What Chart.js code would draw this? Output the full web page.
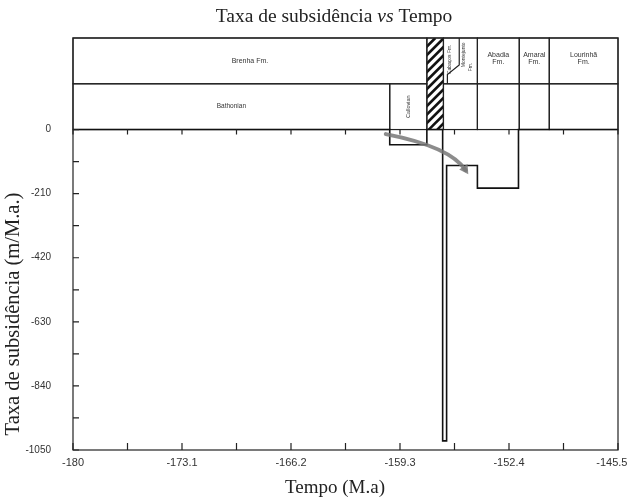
<!DOCTYPE html>
<html>
<head>
<meta charset="utf-8">
<script src="https://cdn.jsdelivr.net/npm/chart.js@4.4.0/dist/chart.umd.min.js"></script>
<style>
    body { margin: 0; background: #fff; }
    #grafico { display: block; }
</style>
</head>
<body>
<canvas id="grafico" width="632" height="502"></canvas>
<script>
// inicio de cada intervalo (M.a) e taxa de subsidência (m/M.a.) que vale até o próximo
const tempos = [-180, -159.95, -157.6, -156.6, -156.35, -154.4, -151.8, -145.5];
const taxas = [0, -50, 0, -1020, -118, -192, 0, 0];

const rotulosX = ['-180', '-173.1', '-166.2', '-159.3', '-152.4', '-145.5'];
const rotulosY = ['0', '-210', '-420', '-630', '-840', '-1050'];

// coluna estratigráfica: faixa superior (formações) e inferior (andares)
const formacoes = [
    [-180, -157.6, 'Brenha Fm.'],
    [-154.4, -151.75, 'Abadia\nFm.'],
    [-151.75, -149.85, 'Amaral\nFm.'],
    [-149.85, -145.5, 'Lourinhã\nFm.']
];
const andares = [
    [-180, -159.95, 'Bathonian'],
    [-159.95, -157.6, ''],
    [-156.55, -154.4, ''],
    [-154.4, -151.75, ''],
    [-151.75, -149.85, ''],
    [-149.85, -145.5, '']
];
const hiato = [-157.6, -156.55];
const limiteCabacos = [[-155.55, 300], [-155.55, 212], [-156.3, 180], [-156.3, 150]];
const seta = [[-160.2, -15], [-156.9, -65], [-155.15, -133]];

const faixaTopo = 300, faixaMeio = 150, faixaBase = 0;

function textoVertical(ctx, txt, x, y) {
    ctx.save();
    ctx.translate(x, y);
    ctx.rotate(-Math.PI / 2);
    ctx.fillText(txt, 0, 0);
    ctx.restore();
}

const coluna = {
    id: 'coluna',
    beforeDatasetsDraw(chart) {
        const { ctx, scales: { x, y } } = chart;
        const px = v => x.getPixelForValue(v);
        const py = v => y.getPixelForValue(v);
        ctx.save();

        // hiato hachurado
        const h0 = px(hiato[0]), h1 = px(hiato[1]);
        const yT = py(faixaTopo), yB = py(faixaBase);
        ctx.save();
        ctx.beginPath();
        ctx.rect(h0, yT, h1 - h0, yB - yT);
        ctx.clip();
        ctx.strokeStyle = '#111';
        ctx.lineWidth = 2.6;
        for (let k = -(yB - yT); k < (h1 - h0) + 10; k += 8.5) {
            ctx.beginPath();
            ctx.moveTo(h0 + k, yB);
            ctx.lineTo(h0 + k + (yB - yT), yT);
            ctx.stroke();
        }
        ctx.restore();

        ctx.strokeStyle = '#222';
        ctx.lineWidth = 1.2;
        ctx.strokeRect(h0, yT, h1 - h0, yB - yT);

        ctx.fillStyle = '#333';
        ctx.textAlign = 'center';
        ctx.textBaseline = 'middle';

        ctx.font = '7px "Liberation Sans"';
        formacoes.forEach(([a, b, txt]) => {
            const xa = px(a), xb = px(b), ya = py(faixaTopo), yb = py(faixaMeio);
            ctx.strokeRect(xa, ya, xb - xa, yb - ya);
            const linhas = txt.split('\n');
            linhas.forEach((l, i) => ctx.fillText(l, (xa + xb) / 2, (ya + yb) / 2 - 6 + i * 7 + (linhas.length === 1 ? 6 : 0)));
        });
        ctx.font = '6.5px "Liberation Sans"';
        andares.forEach(([a, b, txt]) => {
            const xa = px(a), xb = px(b), ya = py(faixaMeio), yb = py(faixaBase);
            ctx.strokeRect(xa, ya, xb - xa, yb - ya);
            if (txt) ctx.fillText(txt, (xa + xb) / 2, (ya + yb) / 2);
        });

        // Cabaços / Montejunto, separadas por limite inclinado
        const c0 = px(hiato[1]), c1 = px(-154.4);
        ctx.strokeRect(c0, py(faixaTopo), c1 - c0, py(faixaMeio) - py(faixaTopo));
        ctx.beginPath();
        limiteCabacos.forEach(([t, v], i) => i ? ctx.lineTo(px(t), py(v)) : ctx.moveTo(px(t), py(v)));
        ctx.stroke();

        ctx.font = '5.5px "Liberation Sans"';
        textoVertical(ctx, 'Callovian', px(-158.78), py(75));
        ctx.font = '5px "Liberation Sans"';
        textoVertical(ctx, 'Cabaços Fm.', px(-156.15), py(230));
        textoVertical(ctx, 'Montejunto', px(-155.3), py(245));
        textoVertical(ctx, 'Fm.', px(-154.85), py(205));
        ctx.restore();
    },
    afterDatasetsDraw(chart) {
        const { ctx, scales: { x, y } } = chart;
        const [a, m, b] = seta.map(([t, v]) => [x.getPixelForValue(t), y.getPixelForValue(v)]);
        const cx = 2 * m[0] - (a[0] + b[0]) / 2;
        const cy = 2 * m[1] - (a[1] + b[1]) / 2;
        ctx.save();
        ctx.strokeStyle = 'rgba(120,120,120,0.85)';
        ctx.fillStyle = 'rgba(120,120,120,0.85)';
        ctx.lineWidth = 4;
        ctx.lineCap = 'round';
        ctx.beginPath();
        ctx.moveTo(a[0], a[1]);
        ctx.quadraticCurveTo(cx, cy, b[0], b[1]);
        ctx.stroke();
        const ang = Math.atan2(b[1] - cy, b[0] - cx);
        ctx.beginPath();
        ctx.moveTo(b[0] + 5 * Math.cos(ang), b[1] + 5 * Math.sin(ang));
        ctx.lineTo(b[0] - 4 * Math.cos(ang) + 5 * Math.sin(ang), b[1] - 4 * Math.sin(ang) - 5 * Math.cos(ang));
        ctx.lineTo(b[0] - 4 * Math.cos(ang) - 5 * Math.sin(ang), b[1] - 4 * Math.sin(ang) + 5 * Math.cos(ang));
        ctx.closePath();
        ctx.fill();
        ctx.restore();
    }
};

// moldura e marcas dos eixos voltadas para dentro
const eixos = {
    id: 'eixos',
    afterDraw(chart) {
        const { ctx, chartArea: area, scales: { x, y } } = chart;
        const y0 = y.getPixelForValue(0);
        ctx.save();
        ctx.strokeStyle = '#222';
        ctx.lineWidth = 1.2;
        ctx.strokeRect(area.left, area.top, area.right - area.left, area.bottom - area.top);
        ctx.beginPath();
        x.ticks.forEach(t => {
            const p = x.getPixelForValue(t.value);
            ctx.moveTo(p, area.bottom);
            ctx.lineTo(p, area.bottom - 7);
            ctx.moveTo(p, y0);
            ctx.lineTo(p, y0 + 5);
        });
        y.ticks.filter(t => t.value <= 0).forEach(t => {
            const p = y.getPixelForValue(t.value);
            ctx.moveTo(area.left, p);
            ctx.lineTo(area.left + 6, p);
        });
        ctx.stroke();
        ctx.restore();
    }
};

const titulos = {
    id: 'titulos',
    afterDraw(chart) {
        const { ctx } = chart;
        const fam = '"Liberation Serif", "Times New Roman", serif';
        ctx.save();
        ctx.fillStyle = '#222';
        ctx.textBaseline = 'middle';

        const partes = [['Taxa de subsidência ', ''], ['vs', 'italic '], [' Tempo', '']];
        let total = 0;
        partes.forEach(([txt, est]) => { ctx.font = est + '19.5px ' + fam; total += ctx.measureText(txt).width; });
        let xAtual = 334 - total / 2;
        ctx.textAlign = 'left';
        partes.forEach(([txt, est]) => {
            ctx.font = est + '19.5px ' + fam;
            ctx.fillText(txt, xAtual, 17);
            xAtual += ctx.measureText(txt).width;
        });

        ctx.textAlign = 'center';
        ctx.font = '19px ' + fam;
        ctx.fillText('Tempo (M.a)', 335, 488);
        ctx.font = '20.5px ' + fam;
        textoVertical(ctx, 'Taxa de subsidência (m/M.a.)', 14, 314);
        ctx.restore();
    }
};

const pontos = tempos.map((t, i) => ({ x: t, y: taxas[i] }));

new Chart(document.getElementById('grafico').getContext('2d'), {
    type: 'line',
    data: {
        datasets: [{
            data: pontos,
            stepped: true,
            borderColor: '#111',
            borderWidth: 1.6,
            pointRadius: 0,
            fill: false
        }]
    },
    options: {
        responsive: false,
        animation: false,
        layout: { padding: { top: 38, right: 14, left: 0, bottom: 0 } },
        plugins: { legend: { display: false }, tooltip: { enabled: false } },
        scales: {
            x: {
                type: 'linear',
                min: -180,
                max: -145.5,
                grid: { display: false, drawTicks: false },
                border: { display: false },
                ticks: {
                    stepSize: 3.45,
                    autoSkip: false,
                    maxRotation: 0,
                    padding: 6,
                    color: '#333',
                    font: { family: 'Liberation Sans', size: 11 },
                    callback: (v, i, lista) => {
                        const s = String(Number(v.toFixed(1)));
                        if (!rotulosX.includes(s)) return '';
                        // o último rótulo recua para caber na tela
                        return i === lista.length - 1 ? s + '    ' : s;
                    }
                },
                afterFit: s => {
                    s.height = 52;
                    s.paddingLeft = 0;
                    s.paddingRight = 0;
                }
            },
            y: {
                min: -1050,
                max: 300,
                grid: { display: false, drawTicks: false },
                border: { display: false },
                ticks: {
                    stepSize: 105,
                    autoSkip: false,
                    padding: 22,
                    color: '#333',
                    font: { family: 'Liberation Sans', size: 10 },
                    callback: v => rotulosY.includes(String(v)) ? String(v) : ''
                },
                afterFit: s => {
                    s.width = 73;
                    s.paddingTop = 0;
                    s.paddingBottom = 0;
                }
            }
        }
    },
    plugins: [coluna, eixos, titulos]
});
</script>
</body>
</html>
